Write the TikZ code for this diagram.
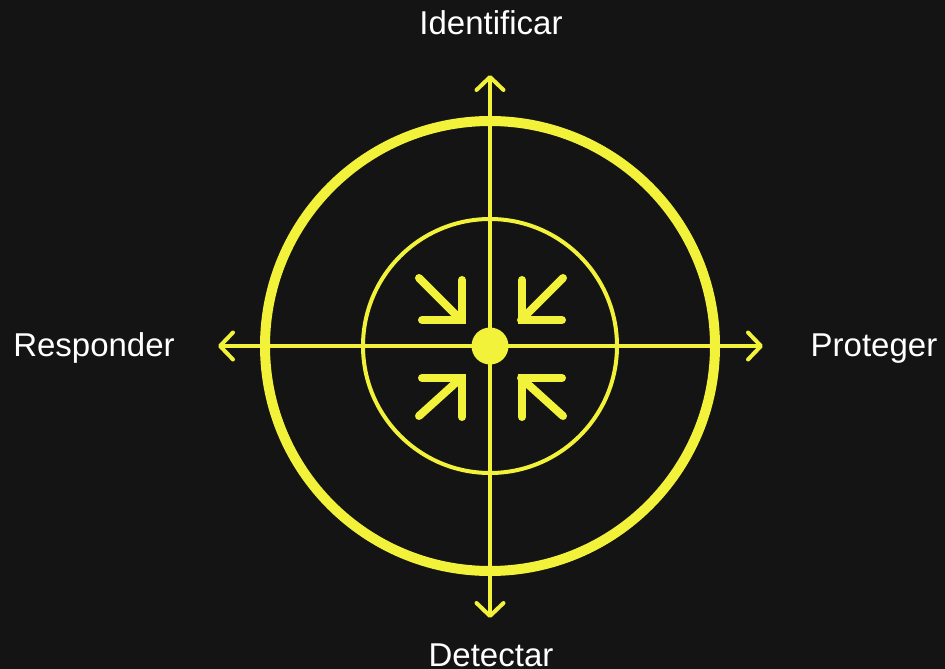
\documentclass[tikz,border=0pt]{standalone}
\usepackage{fontspec}
\setmainfont{Liberation Sans}
\usetikzlibrary{arrows.meta}
\definecolor{bg}{HTML}{141414}
\definecolor{yel}{HTML}{F2F23A}
\begin{document}
\begin{tikzpicture}[x=1pt,y=-1pt,
  lbl/.style={text=white,font=\fontsize{33}{36}\selectfont,inner sep=0pt,anchor=base},
  axis/.style={draw=yel,line width=4pt,line cap=round,
    {Straight Barb[length=13pt,width=27pt,line cap=round,line join=round]}-{Straight Barb[length=13pt,width=27pt,line cap=round,line join=round]}},
  inarrow/.style={draw=yel,line width=8pt,line cap=round,line join=miter}]
\fill[bg] (0,0) rectangle (945,669);
\useasboundingbox (0,0) rectangle (945,669);
\coordinate (c) at (490,346);
\coordinate (top) at (490,75);
\coordinate (bot) at (490,618);
\coordinate (lft) at (218,346);
\coordinate (rgt) at (763,346);
\draw[yel,line width=10pt] (c) circle[radius=225];
\draw[yel,line width=4pt] (c) circle[radius=127];
\draw[axis] (top) -- (bot);
\draw[axis] (lft) -- (rgt);
\fill[yel] (c) circle[radius=18.5];
% quadrant arrows
\draw[inarrow] (419,278) -- (461,320);
\draw[inarrow] (462,280) -- (462,320) -- (422,320);
\draw[inarrow] (563,278) -- (521,320);
\draw[inarrow] (522,280) -- (522,320) -- (562,320);
\draw[inarrow] (419,416) -- (461,378);
\draw[inarrow] (462,417) -- (462,378) -- (422,378);
\draw[inarrow] (563,416) -- (521,378);
\draw[inarrow] (522,417) -- (522,378) -- (562,378);
\node[lbl] (idn) at (491,35) {Identificar};
\node[lbl] (det) at (491,666) {Detectar};
\node[lbl] (res) at (94,356) {Responder};
\node[lbl] (pro) at (874,356) {Proteger};
\end{tikzpicture}
\end{document}
